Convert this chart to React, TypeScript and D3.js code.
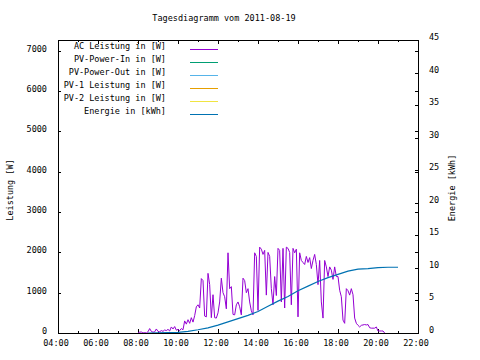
import * as d3 from "d3";

const W = 480;
const H = 360;
const FONT = "'DejaVu Sans Mono', monospace";

const TITLE = "Tagesdiagramm vom 2011-08-19";
const Y_LABEL = "Leistung [W]";
const Y2_LABEL = "Energie [kWh]";

const X_TICKS = ["04:00", "06:00", "08:00", "10:00", "12:00", "14:00", "16:00", "18:00", "20:00", "22:00"];
const Y_TICKS = [0, 1000, 2000, 3000, 4000, 5000, 6000, 7000];
const Y2_TICKS = [0, 5, 10, 15, 20, 25, 30, 35, 40, 45];

const LEGEND_LABELS = [
  "AC Leistung in [W]",
  "PV-Power-In in [W]",
  "PV-Power-Out in [W]",
  "PV-1 Leistung in [W]",
  "PV-2 Leistung in [W]",
  "Energie in [kWh]",
];
const LEGEND_COLORS = ["#9400d3", "#009e73", "#56b4e9", "#e69f00", "#f0e442", "#0072b2"];

// AC power, one reading every 5 minutes starting 08:00
const POWER_START = "08:00";
const POWER_STEP_MIN = 5;
const AC_POWER = [
  0, 20, 25, 0, 10, 0, 30, 110, 40, 20, 30, 100,
  40, 30, 60, 40, 75, 60, 90, 50, 150, 100, 160, 70,
  90, 60, 110, 80, 300, 220, 330, 240, 380, 270, 430, 650,
  700, 620, 1350, 1300, 420, 400, 1480, 1200, 380, 950, 380, 370,
  500, 770, 1360, 1000, 900, 600, 1990, 1100, 1150, 460, 450, 700,
  770, 650, 450, 1360, 1300, 1000, 1100, 770, 550, 450, 1990, 1900,
  560, 2130, 2080, 1950, 2050, 940, 2000, 1900, 1100, 700, 1400, 930,
  2100, 2050, 770, 2100, 620, 2130, 2100, 2000, 700, 2100, 1990, 2080,
  400, 1990, 1800, 1750, 1700, 1900, 1750, 1870, 1600, 1800, 1950, 1700,
  1200, 1800, 770, 370, 1800, 1640, 1400, 1640, 1560, 1330, 1640, 1400,
  1400, 1060, 900, 320, 240, 1100, 1050, 940, 1100, 950, 370, 240,
  190, 150, 190, 200, 210, 200, 210, 130, 120, 120, 120, 150,
  50, 50, 50, 50, 0,
];

const ENERGY_TIMES = [
  "08:30", "10:00", "10:30", "11:00", "11:30", "12:00", "12:30", "13:00", "13:30",
  "14:00", "14:30", "15:00", "15:30", "16:00", "16:30", "17:00", "17:30", "18:00",
  "18:30", "19:00", "19:30", "20:00", "20:30", "21:00",
];
const ENERGY_KWH = [
  0, 0.1, 0.25, 0.5, 0.8, 1.2, 1.7, 2.2, 2.7,
  3.3, 4.1, 4.9, 5.6, 6.5, 7.2, 7.9, 8.5, 9.0,
  9.5, 9.8, 9.9, 10.05, 10.1, 10.1,
];

function toHours(t: string): number {
  const [h, m] = t.split(":").map(Number);
  return h + m / 60;
}

export default function App() {
  const margin = { left: 58, right: 418, top: 40, bottom: 333 };
  const x = d3.scaleLinear().domain([4, 22]).range([margin.left, margin.right]);
  const y = d3.scaleLinear().domain([0, 7270]).range([margin.bottom, margin.top]);
  const y2 = d3.scaleLinear().domain([0, 45]).range([margin.bottom, margin.top]);

  const start = toHours(POWER_START);
  const powerPts: [number, number][] = AC_POWER.map((v, i) => [start + (i * POWER_STEP_MIN) / 60, v]);
  const energyPts: [number, number][] = ENERGY_TIMES.map((t, i) => [toHours(t), ENERGY_KWH[i]]);

  const powerLine = d3.line<[number, number]>().x((d) => x(d[0])).y((d) => y(d[1]));
  const energyLine = d3.line<[number, number]>().x((d) => x(d[0])).y((d) => y2(d[1]));

  const hourTicks = d3.range(4, 23);
  const textProps = { fontFamily: FONT, fontSize: 8.5, fill: "#000" };

  return (
    <svg width={W} height={H} style={{ position: "absolute", left: 0, top: 0, background: "#fff" }}>
      <text x={224} y={21} textAnchor="middle" {...textProps}>
        {TITLE}
      </text>

      {/* x ticks, bottom and top mirrored */}
      <g shapeRendering="crispEdges" stroke="#000">
        {hourTicks.map((h) => {
          const len = h % 2 === 0 ? 4 : 2;
          const px = Math.round(x(h)) + 0.5;
          return (
            <g key={h}>
              <line x1={px} x2={px} y1={margin.bottom} y2={margin.bottom - len} />
              <line x1={px} x2={px} y1={margin.top} y2={margin.top + len} />
            </g>
          );
        })}
        {Y_TICKS.map((v) => {
          const py = Math.round(y(v)) + 0.5;
          return (
            <g key={v}>
              <line x1={margin.left} x2={margin.left + 3} y1={py} y2={py} />
              <line x1={margin.right} x2={margin.right - 3} y1={py} y2={py} />
            </g>
          );
        })}
        {Y2_TICKS.map((v) => {
          const py = Math.round(y2(v)) + 0.5;
          return <line key={v} x1={margin.right} x2={margin.right - 3} y1={py} y2={py} />;
        })}
      </g>

      {X_TICKS.map((t) => (
        <text key={t} x={x(toHours(t)) - 2} y={346} textAnchor="middle" {...textProps}>
          {t}
        </text>
      ))}
      {Y_TICKS.map((v) => (
        <text key={v} x={47} y={y(v) + 1} textAnchor="end" {...textProps}>
          {v}
        </text>
      ))}
      {Y2_TICKS.map((v) => (
        <text key={v} x={429} y={y2(v)} {...textProps}>
          {v}
        </text>
      ))}

      <text transform="translate(13,190) rotate(-90)" textAnchor="middle" {...textProps}>
        {Y_LABEL}
      </text>
      <text transform="translate(455,188) rotate(-90)" textAnchor="middle" {...textProps}>
        {Y2_LABEL}
      </text>

      {/* legend */}
      {LEGEND_LABELS.map((label, i) => {
        const ly = 49 + i * 13;
        return (
          <g key={label}>
            <text x={166} y={ly} textAnchor="end" {...textProps}>
              {label}
            </text>
            <line
              x1={190}
              x2={218}
              y1={ly + 0.5}
              y2={ly + 0.5}
              stroke={LEGEND_COLORS[i]}
              strokeWidth={1}
              shapeRendering="crispEdges"
            />
          </g>
        );
      })}

      <path d={powerLine(powerPts) ?? ""} fill="none" stroke={LEGEND_COLORS[0]} strokeWidth={1} />
      <path d={energyLine(energyPts) ?? ""} fill="none" stroke={LEGEND_COLORS[5]} strokeWidth={1.2} />

      <rect
        x={margin.left + 0.5}
        y={margin.top + 0.5}
        width={margin.right - margin.left}
        height={margin.bottom - margin.top}
        fill="none"
        stroke="#000"
        shapeRendering="crispEdges"
      />
    </svg>
  );
}
